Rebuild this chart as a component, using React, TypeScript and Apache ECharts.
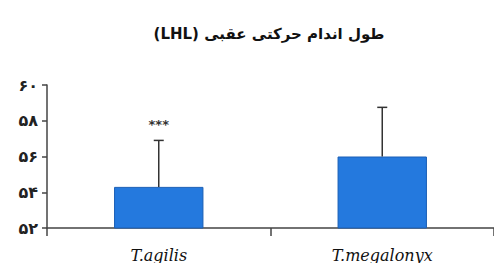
import React, { useEffect, useRef } from "react";
import * as echarts from "echarts";

const titleText = "طول اندام حرکتی عقبی (LHL)";
const categories = ["T.agilis", "T.megalonyx"];
const means = [54.3, 56.0];
const errors = [2.6, 2.75];
const marks = ["***", ""];
const yTickLabels: Record<number, string> = { 52: "۵۲", 54: "۵۴", 56: "۵۶", 58: "۵۸", 60: "۶۰" };

export default function App() {
  const ref = useRef<HTMLDivElement>(null);
  useEffect(() => {
    if (!ref.current) return;
    const chart = echarts.init(ref.current, null, { renderer: "svg" });
    chart.setOption({
      animation: false,
      title: {
        text: "\u202B" + titleText + "\u202C",
        left: 264,
        textAlign: "center",
        top: 21,
        textStyle: { fontFamily: "DejaVu Sans", fontWeight: "bold", fontSize: 15, color: "#111" },
      },
      grid: { left: 47, right: -3, top: 85, bottom: 34 },
      xAxis: {
        type: "category",
        data: categories,
        axisLine: { lineStyle: { color: "#444", width: 1.5 } },
        axisTick: { show: true, length: 8, lineStyle: { color: "#444", width: 1.5 } },
        axisLabel: {
          margin: 19,
          fontFamily: "DejaVu Serif",
          fontStyle: "italic",
          fontSize: 16,
          color: "#111",
        },
      },
      yAxis: {
        type: "value",
        min: 52,
        max: 60,
        interval: 2,
        splitLine: { show: false },
        axisLine: { show: true, lineStyle: { color: "#444", width: 1.5 } },
        axisTick: { show: true, length: 5, lineStyle: { color: "#444", width: 1.5 } },
        axisLabel: {
          margin: 9,
          fontFamily: "DejaVu Sans",
          fontWeight: "bold",
          fontSize: 16,
          color: "#222",
          formatter: (v: number) => yTickLabels[v] ?? String(v),
        },
      },
      series: [
        {
          type: "bar",
          data: means,
          barWidth: "40%",
          itemStyle: { color: "#2479de", borderColor: "#1b5fb5", borderWidth: 1 },
          z: 2,
        },
        {
          type: "custom",
          z: 3,
          data: means.map((m, i) => [i, m, m + errors[i], marks[i]]),
          renderItem: (params: any, api: any) => {
            const x = api.value(0);
            const base = api.coord([x, api.value(1)]);
            const top = api.coord([x, api.value(2)]);
            const label = api.value(3);
            const children: any[] = [
              {
                type: "line",
                shape: { x1: base[0], y1: base[1], x2: top[0], y2: top[1] },
                style: { stroke: "#333", lineWidth: 1.5 },
              },
              {
                type: "line",
                shape: { x1: top[0] - 5, y1: top[1], x2: top[0] + 5, y2: top[1] },
                style: { stroke: "#333", lineWidth: 1.5 },
              },
            ];
            if (label) {
              children.push({
                type: "text",
                style: {
                  text: label,
                  x: top[0],
                  y: top[1] - 16,
                  align: "center",
                  verticalAlign: "middle",
                  fontSize: 13,
                  fontWeight: "bold",
                  fontFamily: "DejaVu Sans",
                  fill: "#333",
                },
              });
            }
            return { type: "group", children };
          },
        },
      ],
    });
    return () => chart.dispose();
  }, []);
  return <div ref={ref} style={{ width: 494, height: 263, position: "absolute", left: 0, top: 0, background: "#fff" }} />;
}
